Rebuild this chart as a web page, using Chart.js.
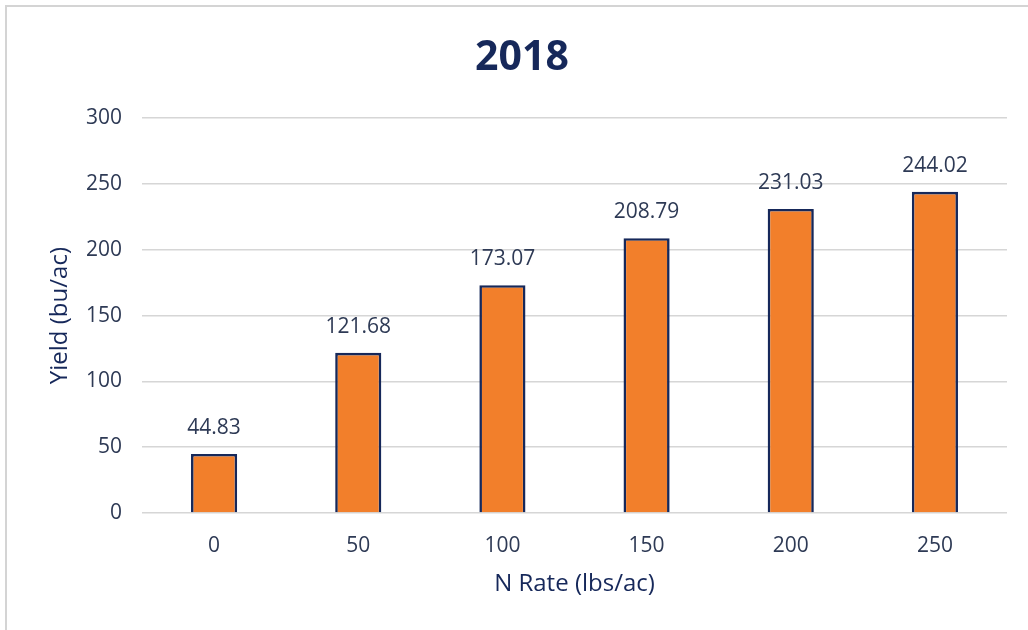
<!DOCTYPE html>
<html>
<head>
<meta charset="utf-8">
<script src="https://cdn.jsdelivr.net/npm/chart.js@4/dist/chart.umd.min.js"></script>
<style>
  html, body { margin: 0; padding: 0; background: #ffffff; }
  #wrap { position: relative; width: 1028px; height: 630px; overflow: hidden; }
  #frame { position: absolute; left: 5px; top: 5px; right: -10px; bottom: -10px;
           border-top: 2px solid #d4d4d4; border-left: 2px solid #d4d4d4; }
  #c { position: absolute; left: 0; top: 0; }
</style>
</head>
<body>
<div id="wrap">
  <div id="frame"></div>
  <canvas id="c" width="1028" height="630"></canvas>
</div>
<script>
const titleText = "2018";
const categories = ["0", "50", "100", "150", "200", "250"];
const yieldValues = [44.83, 121.68, 173.07, 208.79, 231.03, 244.02];
const yTicks = [0, 50, 100, 150, 200, 250, 300];
const xTitle = "N Rate (lbs/ac)";
const yTitle = "Yield (bu/ac)";

const FONT = "'Open Sans', sans-serif";
const NAVY = "#16285a";
const TEXT = "#2e3a55";

const valueLabels = {
  id: "valueLabels",
  afterDatasetsDraw(chart) {
    const ctx = chart.ctx;
    const meta = chart.getDatasetMeta(0);
    const data = chart.data.datasets[0].data;
    ctx.save();
    ctx.font = "21px " + FONT;
    ctx.fillStyle = TEXT;
    ctx.textAlign = "center";
    ctx.textBaseline = "middle";
    meta.data.forEach((bar, i) => {
      ctx.fillText(data[i].toFixed(2), bar.x, bar.y - 26);
    });
    ctx.restore();
  }
};

new Chart(document.getElementById("c"), {
  type: "bar",
  data: {
    labels: categories,
    datasets: [{
      data: yieldValues,
      backgroundColor: "#f27f2b",
      borderColor: NAVY,
      borderWidth: 2.6,
      barPercentage: 0.32,
      categoryPercentage: 1.0
    }]
  },
  options: {
    responsive: false,
    animation: false,
    devicePixelRatio: 1,
    layout: { padding: { left: 16, right: 0, top: 0, bottom: 0 } },
    plugins: {
      legend: { display: false },
      tooltip: { enabled: false },
      title: {
        display: true,
        text: titleText,
        color: NAVY,
        font: { family: FONT, size: 41, weight: "bold", lineHeight: 1.2 },
        padding: { top: 34, bottom: 35 }
      }
    },
    scales: {
      x: {
        grid: { display: false, drawTicks: false },
        border: { display: false },
        ticks: { color: TEXT, font: { family: FONT, size: 21 }, padding: 20 },
        title: { display: true, text: xTitle, color: NAVY,
                 font: { family: FONT, size: 24 }, padding: { top: 0, bottom: 31 } },
        afterFit(s) { s.height = 117; }
      },
      y: {
        min: 0, max: 300,
        afterBuildTicks(s) { s.ticks = yTicks.map(v => ({ value: v })); },
        grid: { color: "#d6d6d6", lineWidth: 1.6, drawTicks: false },
        border: { display: false },
        ticks: { color: TEXT, font: { family: FONT, size: 21 }, padding: 20 },
        title: { display: true, text: yTitle, color: NAVY,
                 font: { family: FONT, size: 24 }, padding: { top: 30, bottom: 0 } },
        afterFit(s) { s.width = 126; }
      },
      yRight: {
        position: "right",
        min: 0, max: 300,
        grid: { display: false, drawTicks: false },
        border: { display: false },
        ticks: { display: false },
        afterFit(s) { s.width = 21; }
      }
    }
  },
  plugins: [valueLabels]
});
</script>
</body>
</html>
